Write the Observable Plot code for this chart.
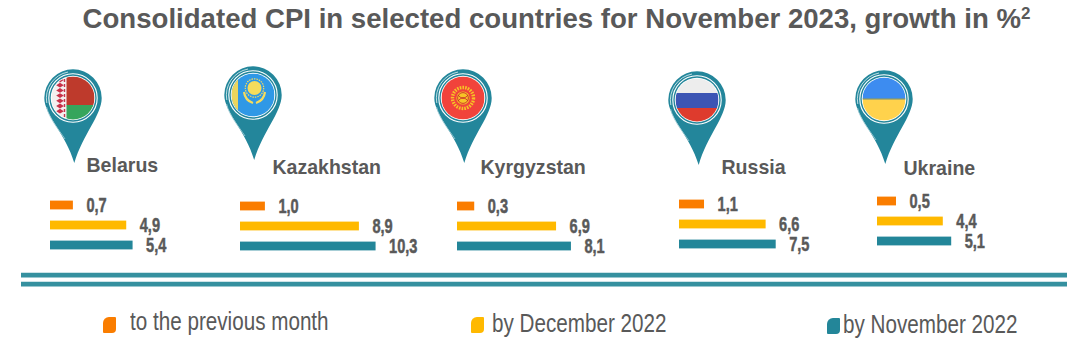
<!DOCTYPE html>
<html><head><meta charset="utf-8">
<script src="https://cdn.jsdelivr.net/npm/d3@7"></script>
<script src="https://cdn.jsdelivr.net/npm/@observablehq/plot@0.6"></script>
<style>
html,body{margin:0;padding:0;background:#fff}
#stage{position:relative;width:1086px;height:352px;overflow:hidden;font-family:"Liberation Sans",Arial,sans-serif;color:#595959}
#stage svg{position:absolute;left:0;top:0}
.title{position:absolute;left:0;top:1px;width:1113px;text-align:center;font-weight:bold;font-size:27.6px;line-height:36px;white-space:nowrap}
.title sup{font-size:17px;line-height:0;vertical-align:9px}
.lg{position:absolute;font-family:"Liberation Sans",sans-serif;font-size:25px;line-height:30px;white-space:nowrap;transform:scaleX(.826);transform-origin:0 50%}
.sw{position:absolute;width:13px;height:16px;border-radius:6px 1px 4px 1px}
</style></head><body><div id="stage"></div>
<script>
const title = "Consolidated CPI in selected countries for November 2023, growth in %";
const countries = ["Belarus","Kazakhstan","Kyrgyzstan","Russia","Ukraine"];
const seriesNames = ["to the previous month","by December 2022","by November 2022"];
const previousMonth = [0.7,1.0,0.3,1.1,0.5];
const byDecember = [4.9,8.9,6.9,6.6,4.4];
const byNovember = [5.4,10.3,8.1,7.5,5.1];
const seriesColors = ["#FA7D00","#FFB900","#238699"];
const textColor = "#595959", pinColor = "#23869B";

// panel layout: bar origin, bar-stack top, px per unit, zero offset, name position, pin centre
const layout = [
  {bx:50, by:193.8,k:12.7,c:14,  nx:86, ny:165,cx:73, cy:98, tx:1.3},
  {bx:240,by:194.5,k:11.9,c:13,  nx:272,ny:167,cx:253,cy:95, tx:1.2},
  {bx:457,by:194.5,k:12.4,c:13.5,nx:480,ny:167,cx:463,cy:98, tx:1.3},
  {bx:679,by:192.5,k:11.2,c:12.7,nx:721,ny:167,cx:697,cy:100,tx:1.7},
  {bx:877,by:189.5,k:12,  c:13,  nx:903,ny:168,cx:884,cy:99, tx:1.3}
];
const stage = d3.select("#stage");
stage.append("div").attr("class","title").html(title+"<sup>2</sup>");

function flag(g,i){
  const R=21.5, clip=`fc${i}`;
  g.append("clipPath").attr("id",clip).append("circle").attr("r",R);
  const f=g.append("g").attr("clip-path",`url(#${clip})`);
  const rect=(x,y,w,h,c)=>f.append("rect").attr("x",x).attr("y",y).attr("width",w).attr("height",h).attr("fill",c);
  if(i===0){
    rect(-R,-R,2*R,2*R,"#F4EFEF");
    rect(-6.5,-R,R+6.5,R+7,"#BE3A2C");
    rect(-6.5,7,R+6.5,R,"#35A55C");
    for(let y=-18;y<=18;y+=5.2){
      f.append("path").attr("d",`M-13 ${y-2.4}l3.8 2.4l-3.8 2.4l-3.8 -2.4z`).attr("fill","#C8324A");
    }
    f.append("path").attr("d","M-8.5 -19V19").attr("stroke","#C8324A").attr("stroke-width",1.4).attr("stroke-dasharray","3 2");
  } else if(i===1){
    rect(-R,-R,2*R,2*R,"#2F98E6");
    rect(-R,-R,6.5,2*R,"#EBD55E");
    f.append("circle").attr("cx",1.5).attr("cy",-7).attr("r",7).attr("fill","#F6DC5C");
    f.append("circle").attr("cx",1.5).attr("cy",-7).attr("r",9.2).attr("fill","none").attr("stroke","#F6DC5C").attr("stroke-width",1.2).attr("stroke-dasharray","1.5 1");
    f.append("path").attr("d","M-9 -3C-8 5 -3 7 0 8M12 -3C11 5 6 7 3 8").attr("fill","none").attr("stroke","#F6DC5C").attr("stroke-width",2.2);
  } else if(i===2){
    rect(-R,-R,2*R,2*R,"#F1433B");
    f.append("circle").attr("r",10.5).attr("fill","none").attr("stroke","#F7C326").attr("stroke-width",3.4).attr("stroke-dasharray","1.6 1.1");
    f.append("circle").attr("r",6.6).attr("fill","#F7C326");
    f.append("path").attr("d","M-5 -3C-2 1 2 1 5 -3M-5 3C-2 -1 2 -1 5 3").attr("fill","none").attr("stroke","#C9302C").attr("stroke-width",1);
    f.append("circle").attr("r",5.4).attr("fill","none").attr("stroke","#C9302C").attr("stroke-width",.9);
  } else if(i===3){
    rect(-R,-R,2*R,14.5,"#EDEDED");
    rect(-R,-7,2*R,15,"#3C55B4");
    rect(-R,8,2*R,14,"#DE3B2D");
  } else {
    rect(-R,-R,2*R,R,"#3D8CF0");
    rect(-R,0,2*R,R,"#FFD24C");
    f.append("rect").attr("x",-R).attr("y",-.6).attr("width",2*R).attr("height",1.2).attr("fill","#8A9A6A");
  }
}
function pinMark(i){
  return () => {
    const L=layout[i], R=28.7;
    const g=d3.create("svg:g").attr("transform",`translate(${L.cx},${L.cy})`);
    g.append("path").attr("fill",pinColor).attr("d",
      `M${-R} 0A${R} ${R} 0 0 1 ${R} 0C${R} 17 10 36 ${L.tx} 65C-7 36 ${-R} 17 ${-R} 0Z`);
    g.append("path").attr("fill","none").attr("stroke","#CFE6EA").attr("stroke-width",.9)
      .attr("d","M-26.2 5A26.6 26.6 0 0 1 -5 -26");
    g.append("path").attr("fill","none").attr("stroke","#9CCAD3").attr("stroke-width",.9)
      .attr("d","M-26.4 9C-24 20 -14 32 -8 41");
    g.append("circle").attr("r",24.2).attr("fill",pinColor).attr("stroke","#fff").attr("stroke-width",1.1);
    g.append("circle").attr("r",22.3).attr("fill","#fff");
    flag(g,i);
    return g.node();
  };
}
const fmt=v=>d3.format(".1f")(v).replace(".",",");

countries.forEach((name,i)=>{
  const L=layout[i], W=300;
  const rows=[previousMonth[i],byDecember[i],byNovember[i]].map((value,j)=>({series:seriesNames[j],value}));
  const xMin=-L.c/L.k, xMax=(W-L.c)/L.k;
  const chart=Plot.plot({
    width:1086,height:352,margin:0,
    style:{background:"transparent",overflow:"visible"},
    x:{axis:null,domain:[xMin,xMax],range:[L.bx,L.bx+W]},
    y:{axis:null,domain:seriesNames,range:[L.by,L.by+62],padding:0},
    color:{domain:seriesNames,range:seriesColors},
    marks:[
      pinMark(i),
      Plot.text([name],{frameAnchor:"top-left",lineAnchor:"middle",textAnchor:"start",dx:L.nx,dy:L.ny,
        fontFamily:"'Liberation Sans',Arial,sans-serif",fontWeight:"bold",fontSize:21,fill:textColor,className:"nameLabel"}),
      Plot.barX(rows,{x1:()=>xMin,x2:"value",y:"series",fill:"series",insetTop:5.6,insetBottom:5.6}),
      Plot.text(rows,{x:"value",y:"series",text:d=>fmt(d.value),dx:13,textAnchor:"start",
        fontFamily:"'Liberation Sans',sans-serif",fontWeight:"bold",fontSize:20,fill:textColor,stroke:textColor,strokeWidth:.5,className:"valueLabel"})
    ]
  });
  stage.node().appendChild(chart);
  // the original lettering is condensed: narrow it while keeping it real text
  const squeeze=(sel,ratio)=>chart.querySelectorAll(sel).forEach(t=>{
    t.setAttribute("textLength",(t.getComputedTextLength()*ratio).toFixed(1));
    t.setAttribute("lengthAdjust","spacingAndGlyphs");
  });
  squeeze(".valueLabel text",0.73);
  squeeze(".nameLabel text",0.93);
});

// double separator
const sep=Plot.plot({
  width:1086,height:352,margin:0,style:{background:"transparent"},
  x:{axis:null,domain:[0,1],range:[21,1067]},
  y:{axis:null,domain:[0,1],range:[274.6,283.6]},
  marks:[Plot.ruleY([0,1],{x1:0,x2:1,stroke:"#35909F",strokeWidth:4.6})]
});
stage.node().appendChild(sep);

// legend
const legendLayout=[{sx:103,sy:317,tx:130,ty:306},{sx:471,sy:317,tx:492,ty:307.5},{sx:827,sy:318,tx:843,ty:309}];
seriesNames.forEach((s,i)=>{
  const P=legendLayout[i];
  stage.append("span").attr("class","sw").style("left",P.sx+"px").style("top",P.sy+"px").style("background",seriesColors[i]);
  stage.append("span").attr("class","lg").style("left",P.tx+"px").style("top",P.ty+"px").text(s);
});
</script></body></html>
